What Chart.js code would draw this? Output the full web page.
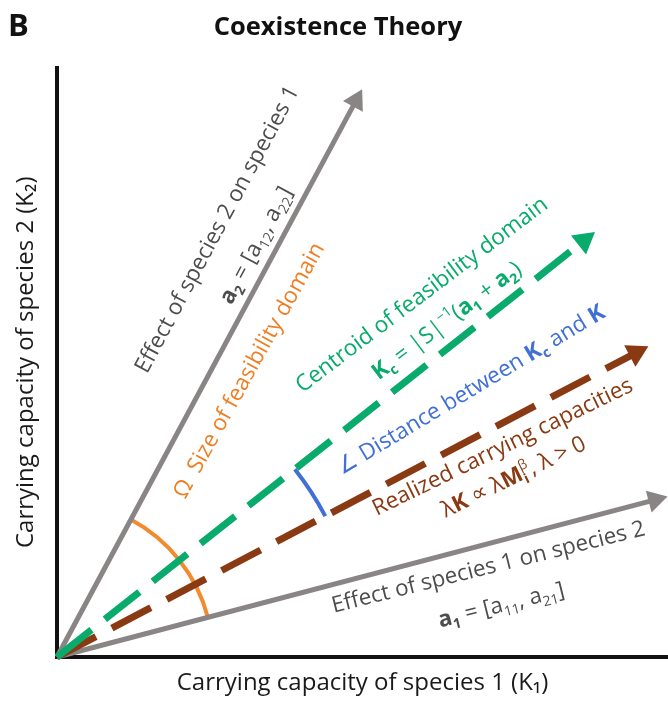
<!DOCTYPE html>
<html>
<head>
<meta charset="utf-8">
<script src="https://cdn.jsdelivr.net/npm/chart.js@4.4.0/dist/chart.umd.min.js"></script>
<style>
  html, body { margin: 0; padding: 0; background: #fff; }
  #wrap { width: 668px; height: 703px; }
</style>
</head>
<body>
<div id="wrap"><canvas id="chart"></canvas></div>
<script>
// Coexistence Theory - vectors in the (K1, K2) plane

// vector end points (centre of the arrow head), axis units
const vectorNames = ['a1', 'a2', 'Kc', 'K'];
const vectorX = [598, 299, 527, 579];
const vectorY = [157, 556, 416, 304];

// angle arcs around the origin
const arcRadius = [156, 303];
const arcFrom = [1, 2];   // index into vectors
const arcTo = [0, 3];

const axisMaxX = 611;
const axisMaxY = 589;

// label texts: [text, flags]  flags: b = bold, i = italic, sub, sup, stack
const labelText = [
    [['Effect of species 2 on species 1']],
    [['a', 'b'], ['2', 'b sub'], [' = [a'], ['12', 'sub'], [', a'], ['22', 'sub'], [']']],
    [['Ω  Size of feasibility domain']],
    [['Centroid of feasibility domain']],
    [['K', 'b'], ['c', 'b sub'], [' = |S|'], ['−1', 'sup'], ['('], ['a', 'b'], ['1', 'b sub'], [' + '], ['a', 'b'], ['2', 'b sub'], [')']],
    [['∠ Distance between '], ['K', 'b'], ['c', 'b sub'], [' and '], ['K', 'b']],
    [['Realized carrying capacities']],
    [['λ'], ['K', 'b'], [' ∝ λ'], ['M', 'b'], ['i', 'b sub stack'], ['β', 'sup'], [', λ > 0']],
    [['Effect of species 1 on species 2']],
    [['a', 'b'], ['1', 'b sub'], [' = [a'], ['11', 'sub'], [', a'], ['21', 'sub'], [']']]
];

const GRAY = '#898584';
const GRAY_TEXT = '#4d4d4d';
const GREEN = '#08ab6b';
const BROWN = '#8a3a13';
const BLUE = '#3f6fd7';
const ORANGE = '#f07e22';
const ARC_ORANGE = '#f28a2e';
const FONT = "'Open Sans', sans-serif";

// where the labels sit (axis units, centre of text) and how they are turned
const labelLayout = [
    { x: 159, y: 428, angle: 61.8, color: GRAY_TEXT, size: 22.5 },
    { x: 198, y: 412, angle: 61.8, color: GRAY_TEXT, size: 22.5 },
    { x: 191, y: 287, angle: 61, color: ORANGE, size: 22.5 },
    { x: 364, y: 363, angle: 37, color: GREEN, size: 22.5 },
    { x: 389, y: 337, angle: 37, color: GREEN, size: 22.5 },
    { x: 413, y: 268, angle: 31, color: BLUE, size: 22.5 },
    { x: 445, y: 211, angle: 26, color: BROWN, size: 22.5 },
    { x: 456, y: 181, angle: 26, color: BROWN, size: 22.5 },
    { x: 431, y: 91, angle: 14, color: GRAY_TEXT, size: 22.5 },
    { x: 444, y: 53, angle: 14, color: GRAY_TEXT, size: 22.5 }
];

Chart.defaults.font.family = FONT;

function vectorDataset(i, color, width, dash, head) {
    const x = vectorX[i], y = vectorY[i];
    const rot = 90 - Math.atan2(y, x) * 180 / Math.PI;
    return {
        label: vectorNames[i],
        data: [{ x: 0, y: 0 }, { x: x, y: y }],
        showLine: true,
        borderColor: color,
        borderWidth: width,
        borderDash: dash,
        borderCapStyle: 'butt',
        pointStyle: 'triangle',
        pointRadius: [0, head],
        pointRotation: [0, rot],
        pointBackgroundColor: color,
        pointBorderColor: color,
        pointBorderWidth: 0,
        clip: false
    };
}

function parseFlags(f) {
    const s = {};
    (f || '').split(' ').forEach(k => { if (k) s[k] = true; });
    return s;
}

function drawRich(ctx, segs, cx, cy, angleDeg, size, color) {
    const parts = segs.map(p => Object.assign({ t: p[0] }, parseFlags(p[1])));
    const fontFor = s => {
        const sz = (s.sub || s.sup) ? size * 0.62 : size;
        return (s.i ? 'italic ' : '') + (s.b ? 'bold ' : '') + sz + 'px ' + FONT;
    };
    let total = 0;
    const widths = parts.map(s => {
        ctx.font = fontFor(s);
        const w = ctx.measureText(s.t).width;
        if (!s.stack) total += w;
        return w;
    });
    ctx.save();
    ctx.translate(cx, cy);
    ctx.rotate(-angleDeg * Math.PI / 180);
    ctx.fillStyle = color;
    ctx.textBaseline = 'alphabetic';
    ctx.textAlign = 'left';
    let x = -total / 2;
    const base = size * 0.36;
    parts.forEach((s, i) => {
        ctx.font = fontFor(s);
        let y = base;
        if (s.sub) y += size * 0.22;
        if (s.sup) y -= size * 0.42;
        ctx.fillText(s.t, x, y);
        if (!s.stack) x += widths[i];
    });
    ctx.restore();
}

const diagramPlugin = {
    id: 'diagram',
    beforeDatasetsDraw(chart) {
        const ctx = chart.ctx;
        const xs = chart.scales.x, ys = chart.scales.y;
        const x0 = xs.getPixelForValue(0), y0 = ys.getPixelForValue(0);
        const colors = [ARC_ORANGE, BLUE];
        arcRadius.forEach((r, k) => {
            const rpx = xs.getPixelForValue(r) - x0;
            const a1 = Math.atan2(vectorY[arcFrom[k]], vectorX[arcFrom[k]]);
            const a2 = Math.atan2(vectorY[arcTo[k]], vectorX[arcTo[k]]);
            ctx.save();
            ctx.beginPath();
            ctx.arc(x0, y0, rpx, -a1, -a2, false);
            ctx.strokeStyle = colors[k];
            ctx.lineWidth = 4;
            ctx.stroke();
            ctx.restore();
        });
    },
    afterDatasetsDraw(chart) {
        const ctx = chart.ctx;
        const xs = chart.scales.x, ys = chart.scales.y;
        labelText.forEach((segs, i) => {
            const L = labelLayout[i];
            drawRich(ctx, segs, xs.getPixelForValue(L.x), ys.getPixelForValue(L.y), L.angle, L.size, L.color);
        });
        // panel letter
        ctx.save();
        ctx.font = 'bold 31px ' + FONT;
        ctx.fillStyle = '#111';
        ctx.textBaseline = 'alphabetic';
        ctx.fillText('B', 8, 36);
        ctx.restore();
    }
};

const datasets = [
    vectorDataset(2, GREEN, 7, [44, 17], 14),
    vectorDataset(3, BROWN, 7, [44, 18], 14),
    vectorDataset(0, GRAY, 5, [], 13),
    vectorDataset(1, GRAY, 5, [], 13)
];

new Chart(document.getElementById('chart'), {
    type: 'scatter',
    data: { datasets: datasets },
    options: {
        responsive: true,
        maintainAspectRatio: false,
        animation: false,
        events: [],
        layout: { autoPadding: false, padding: { left: 8, right: 0, top: 0, bottom: 0 } },
        plugins: {
            legend: { display: false },
            tooltip: { enabled: false },
            title: {
                display: true,
                text: 'Coexistence Theory',
                color: '#111',
                font: { size: 25.5, weight: 'bold' },
                padding: { top: 12, bottom: 25 }
            }
        },
        scales: {
            x: {
                type: 'linear', min: 0, max: axisMaxX,
                ticks: { display: false },
                grid: { display: false, drawTicks: false },
                border: { display: true, width: 4, color: '#111' },
                title: {
                    display: true, text: 'Carrying capacity of species 1 (K₁)',
                    color: '#1a1a1a', font: { size: 24 }, padding: { top: 12.2, bottom: 5 }
                }
            },
            y: {
                type: 'linear', min: 0, max: axisMaxY,
                ticks: { display: false },
                grid: { display: false, drawTicks: false },
                border: { display: true, width: 4, color: '#111' },
                title: {
                    display: true, text: 'Carrying capacity of species 2 (K₂)',
                    color: '#1a1a1a', font: { size: 24 }, padding: { top: 4, bottom: 16.2 }
                }
            }
        }
    },
    plugins: [diagramPlugin]
});
</script>
</body>
</html>
